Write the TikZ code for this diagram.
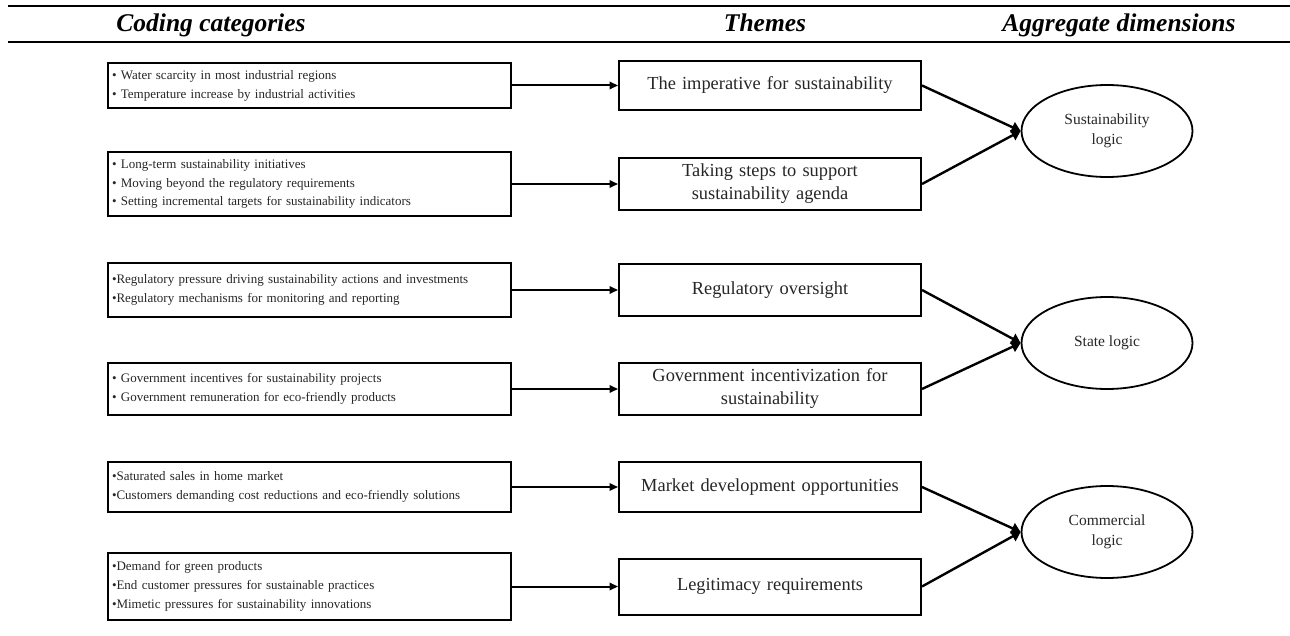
\documentclass[tikz,border=0pt]{standalone}
\usepackage{fontspec}
\setmainfont{Liberation Serif}
\usetikzlibrary{arrows.meta,shapes.geometric}
\begin{document}
\begin{tikzpicture}[x=1pt,y=-1pt,
  codebox/.style={draw,line width=2pt,minimum width=403pt,text width=395pt,inner xsep=4pt,
    align=left,font=\fontsize{13}{18.8}\selectfont,text=black!85},
  themebox/.style={draw,line width=2pt,minimum width=302pt,text width=290pt,inner xsep=6pt,
    align=center,font=\fontsize{18.4}{23}\selectfont,text=black!85},
  logic/.style={draw,ellipse,line width=1.8pt,minimum width=171pt,minimum height=92pt,inner sep=0pt,
    align=center,font=\fontsize{15.5}{20}\selectfont,text=black!85},
  hdr/.style={anchor=base,font=\fontsize{25.5}{27}\selectfont\bfseries\itshape},
  harrow/.style={line width=2pt,-{Triangle[length=8.5pt,width=7.5pt]}},
  darrow/.style={line width=2.4pt,-{Triangle[length=9pt,width=11pt]}},
  rule/.style={line width=2.8pt}]
\useasboundingbox (0,0) rectangle (1290,636);
\coordinate (r1a) at (8,6);
\coordinate (r1b) at (1290,6);
\coordinate (r2a) at (8,42);
\coordinate (r2b) at (1290,42);
\draw[rule] (r1a) -- (r1b);
\draw[rule] (r2a) -- (r2b);
\node[hdr] (h1) at (211,32) {Coding categories};
\node[hdr] (h2) at (765,32) {Themes};
\node[hdr] (h3) at (1119,32) {Aggregate dimensions};

\node[codebox,minimum height=45pt] (l1) at (309.5,85.5) {• Water scarcity in most industrial regions\\• Temperature increase by industrial activities};
\node[codebox,minimum height=64pt] (l2) at (309.5,184) {• Long-term sustainability initiatives\\• Moving beyond the regulatory requirements\\• Setting incremental targets for sustainability indicators};
\node[codebox,minimum height=54pt] (l3) at (309.5,290) {•Regulatory pressure driving sustainability actions and investments\\•Regulatory mechanisms for monitoring and reporting};
\node[codebox,minimum height=52pt] (l4) at (309.5,389) {• Government incentives for sustainability projects\\• Government remuneration for eco-friendly products};
\node[codebox,minimum height=50pt] (l5) at (309.5,487) {•Saturated sales in home market\\•Customers demanding cost reductions and eco-friendly solutions};
\node[codebox,minimum height=67pt] (l6) at (309.5,586.5) {•Demand for green products\\•End customer pressures for sustainable practices\\•Mimetic pressures for sustainability innovations};

\node[themebox,minimum height=49pt] (t1) at (770,85.5) {The imperative for sustainability};
\node[themebox,minimum height=52pt] (t2) at (770,184) {Taking steps to support\\sustainability agenda};
\node[themebox,minimum height=52pt] (t3) at (770,290) {Regulatory oversight};
\node[themebox,minimum height=52pt] (t4) at (770,389) {Government incentivization for\\sustainability};
\node[themebox,minimum height=50pt] (t5) at (770,487) {Market development opportunities};
\node[themebox,minimum height=56pt] (t6) at (770,586.5) {Legitimacy requirements};

\node[logic] (e1) at (1107,131) {Sustainability\\logic};
\node[logic] (e2) at (1107,343) {State logic};
\node[logic] (e3) at (1107,532) {Commercial\\logic};

\foreach \i in {1,...,6} \draw[harrow] (l\i.east) -- (t\i.west);
\draw[darrow] (t1.east) -- (e1.west);
\draw[darrow] (t2.east) -- (e1.west);
\draw[darrow] (t3.east) -- (e2.west);
\draw[darrow] (t4.east) -- (e2.west);
\draw[darrow] (t5.east) -- (e3.west);
\draw[darrow] (t6.east) -- (e3.west);
\end{tikzpicture}
\end{document}
